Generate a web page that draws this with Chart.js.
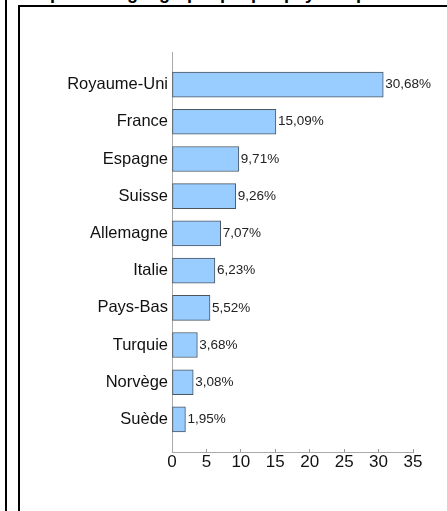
<!DOCTYPE html>
<html lang="fr">
<head>
<meta charset="utf-8">
<title>Répartition géographique</title>
<script src="https://cdn.jsdelivr.net/npm/chart.js@4"></script>
<style>
  html, body { margin: 0; padding: 0; background: #fff; overflow: hidden; }
  body { width: 447px; height: 511px; position: relative; font-family: "Liberation Sans", Arial, sans-serif; }
  .outer { position: absolute; left: 5px; top: -10px; width: 600px; height: 600px; border-left: 2px solid #000; }
  .title { position: absolute; left: 27px; top: -16px; font-weight: bold; font-size: 18px; line-height: 18px; white-space: nowrap; color: #000; }
  .frame { position: absolute; left: 18px; top: 5px; width: 600px; height: 600px; border-left: 2px solid #000; border-top: 2px solid #000; }
  .wrap { position: absolute; left: 0; top: 0; width: 447px; height: 511px; }
</style>
</head>
<body>
<div class="outer"></div>
<div class="title">Répartition géographique par pays de provenance</div>
<div class="frame"></div>
<div class="wrap"><canvas id="barChart" width="447" height="511"></canvas></div>
<script>
// --- Data ---
const countries = ["Royaume-Uni", "France", "Espagne", "Suisse", "Allemagne", "Italie", "Pays-Bas", "Turquie", "Norvège", "Suède"];
const shares = [30.68, 15.09, 9.71, 9.26, 7.07, 6.23, 5.52, 3.68, 3.08, 1.95];
const xTicks = [0, 5, 10, 15, 20, 25, 30, 35];

const fontFamily = "'Liberation Sans', Arial, sans-serif";
const formatShare = (v) => v.toFixed(2).replace(".", ",") + "%";

// --- Value labels at the end of each bar ---
const valueLabels = {
  id: "valueLabels",
  afterDatasetsDraw(chart) {
    const { ctx } = chart;
    const meta = chart.getDatasetMeta(0);
    ctx.save();
    ctx.font = "13.5px " + fontFamily;
    ctx.fillStyle = "#222";
    ctx.textAlign = "left";
    ctx.textBaseline = "middle";
    meta.data.forEach((bar, i) => {
      ctx.fillText(formatShare(shares[i]), bar.x + 2, bar.y);
    });
    ctx.restore();
  },
};

// --- Chart ---
const ctx = document.getElementById("barChart").getContext("2d");
new Chart(ctx, {
  type: "bar",
  data: {
    datasets: [
      {
        data: shares.map((v, i) => ({ x: v, y: i })),
        backgroundColor: "#99ccff",
        borderColor: "#4a5560",
        borderWidth: 1,
        borderSkipped: false,
        barThickness: 25,
      },
    ],
  },
  options: {
    indexAxis: "y",
    responsive: false,
    animation: false,
    layout: { padding: { top: 52, right: 34, left: 0, bottom: 0 } },
    plugins: { legend: { display: false }, tooltip: { enabled: false } },
    scales: {
      y: {
        type: "linear",
        reverse: true,
        offset: false,
        min: -0.875,
        max: 9.875,
        grid: { display: false, drawTicks: false },
        border: { display: true, color: "#aaaaaa", width: 1 },
        ticks: {
          stepSize: 1,
          includeBounds: false,
          autoSkip: false,
          padding: 4,
          color: "#111",
          font: { family: fontFamily, size: 16.5 },
          callback: (v) => (Number.isInteger(v) && countries[v] !== undefined ? countries[v] : ""),
        },
        afterFit: (scale) => { scale.width = 172; },
      },
      x: {
        type: "linear",
        min: xTicks[0],
        max: xTicks[xTicks.length - 1],
        grid: { display: true, drawOnChartArea: false, drawTicks: true, tickLength: -3, color: "#999999" },
        border: { display: true, color: "#aaaaaa", width: 1 },
        ticks: {
          stepSize: 5,
          padding: 3,
          color: "#111",
          font: { family: fontFamily, size: 17 },
        },
        afterFit: (scale) => { scale.height = 59; },
      },
    },
  },
  plugins: [valueLabels],
});
</script>
</body>
</html>
